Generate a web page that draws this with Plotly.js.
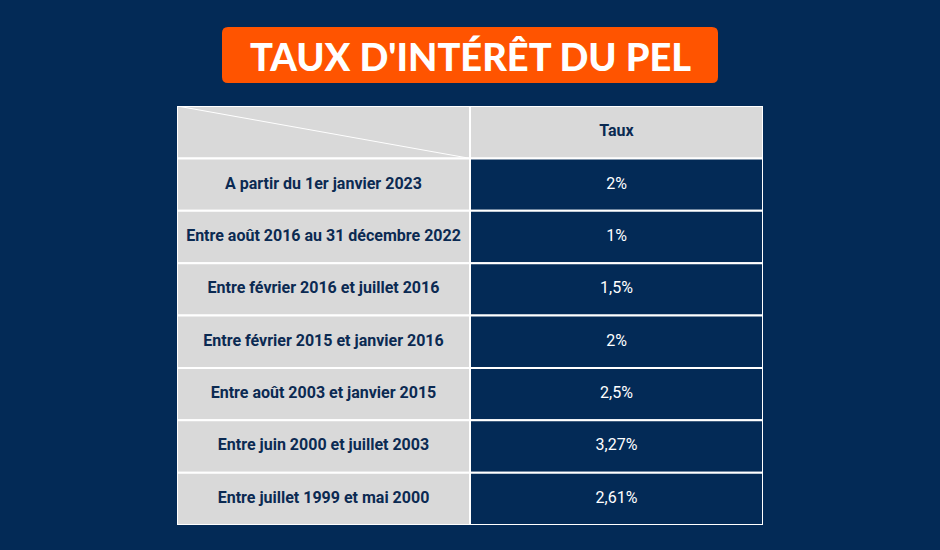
<!DOCTYPE html>
<html>
<head>
<meta charset="utf-8">
<script src="https://cdn.plot.ly/plotly-3.0.1.min.js"></script>
<style>
  html, body { margin: 0; padding: 0; background: #032a56; }
  #chart { width: 940px; height: 550px; }
</style>
</head>
<body>
<div id="chart"></div>
<script>
// Table content
const titre = "TAUX D'INTÉRÊT DU PEL";
const enTete = ['', 'Taux'];
const periodes = [
  'A partir du 1er janvier 2023',
  'Entre août 2016 au 31 décembre 2022',
  'Entre février 2016 et juillet 2016',
  'Entre février 2015 et janvier 2016',
  'Entre août 2003 et janvier 2015',
  'Entre juin 2000 et juillet 2003',
  'Entre juillet 1999 et mai 2000',
];
const taux = ['2%', '1%', '1,5%', '2%', '2,5%', '3,27%', '2,61%'];

const NAVY = '#032a56';
const GRAY = '#d9d9d9';
const INK = '#0b2a52';

// row 0 is the header, rows 1..n are the periods
const rows = [0].concat(periodes.map((p, i) => i + 1));
const dataRows = periodes.map((p, i) => i + 1);

const cellLine = { color: '#ffffff', width: 2 };

const traces = [
  // left column cells
  {
    type: 'bar', orientation: 'h',
    y: rows, x: rows.map(() => 1), base: 0, width: 1,
    marker: { color: GRAY, line: cellLine },
    hoverinfo: 'skip',
  },
  // right column cells
  {
    type: 'bar', orientation: 'h',
    y: rows, x: rows.map(() => 1), base: 1, width: 1,
    marker: { color: rows.map((r) => (r === 0 ? GRAY : NAVY)), line: cellLine },
    hoverinfo: 'skip',
  },
  // header text
  {
    type: 'scatter', mode: 'text',
    x: [0.5, 1.5], y: [0, 0], text: enTete,
    textfont: { family: 'Roboto', size: 16, color: INK, weight: 700 },
    hoverinfo: 'skip',
  },
  // period labels
  {
    type: 'scatter', mode: 'text',
    x: dataRows.map(() => 0.5), y: dataRows, text: periodes,
    textfont: { family: 'Roboto', size: 16, color: INK, weight: 700 },
    hoverinfo: 'skip',
  },
  // rates
  {
    type: 'scatter', mode: 'text',
    x: dataRows.map(() => 1.5), y: dataRows, text: taux,
    textfont: { family: 'Roboto', size: 16, color: '#ffffff', weight: 400 },
    hoverinfo: 'skip',
  },
];

// rounded title box, in pixels around its centre
const bw = 496, bh = 56, r = 6;
const hx = bw / 2, hy = bh / 2;
const boxPath = `M ${-hx + r} ${-hy} L ${hx - r} ${-hy} Q ${hx} ${-hy} ${hx} ${-hy + r} `
  + `L ${hx} ${hy - r} Q ${hx} ${hy} ${hx - r} ${hy} `
  + `L ${-hx + r} ${hy} Q ${-hx} ${hy} ${-hx} ${hy - r} `
  + `L ${-hx} ${-hy + r} Q ${-hx} ${-hy} ${-hx + r} ${-hy} Z`;

const layout = {
  width: 940,
  height: 550,
  margin: { l: 0, r: 0, t: 0, b: 0, pad: 0 },
  paper_bgcolor: NAVY,
  plot_bgcolor: NAVY,
  showlegend: false,
  barmode: 'overlay',
  bargap: 0,
  xaxis: {
    domain: [177 / 940, 763 / 940],
    range: [0, 2],
    visible: false,
    fixedrange: true,
  },
  yaxis: {
    domain: [25 / 550, 444 / 550],
    range: [rows.length - 0.5, -0.5],
    visible: false,
    fixedrange: true,
  },
  shapes: [
    // diagonal in the empty header cell
    {
      type: 'line', xref: 'x', yref: 'y',
      x0: 0, y0: -0.5, x1: 1, y1: 0.5,
      line: { color: '#ffffff', width: 1 },
    },
    {
      type: 'path',
      xref: 'paper', yref: 'paper',
      xsizemode: 'pixel', ysizemode: 'pixel',
      xanchor: 470 / 940, yanchor: 1 - 55 / 550,
      path: boxPath,
      fillcolor: '#ff5400',
      line: { width: 0 },
      layer: 'above',
    },
  ],
  annotations: [
    {
      xref: 'paper', yref: 'paper',
      x: 470 / 940, y: 1 - 56 / 550,
      xanchor: 'center', yanchor: 'middle',
      text: titre,
      showarrow: false,
      font: { family: 'Lato', size: 38, color: '#ffffff', weight: 900 },
    },
  ],
};

Plotly.newPlot('chart', traces, layout, { staticPlot: true, displayModeBar: false });
</script>
</body>
</html>
